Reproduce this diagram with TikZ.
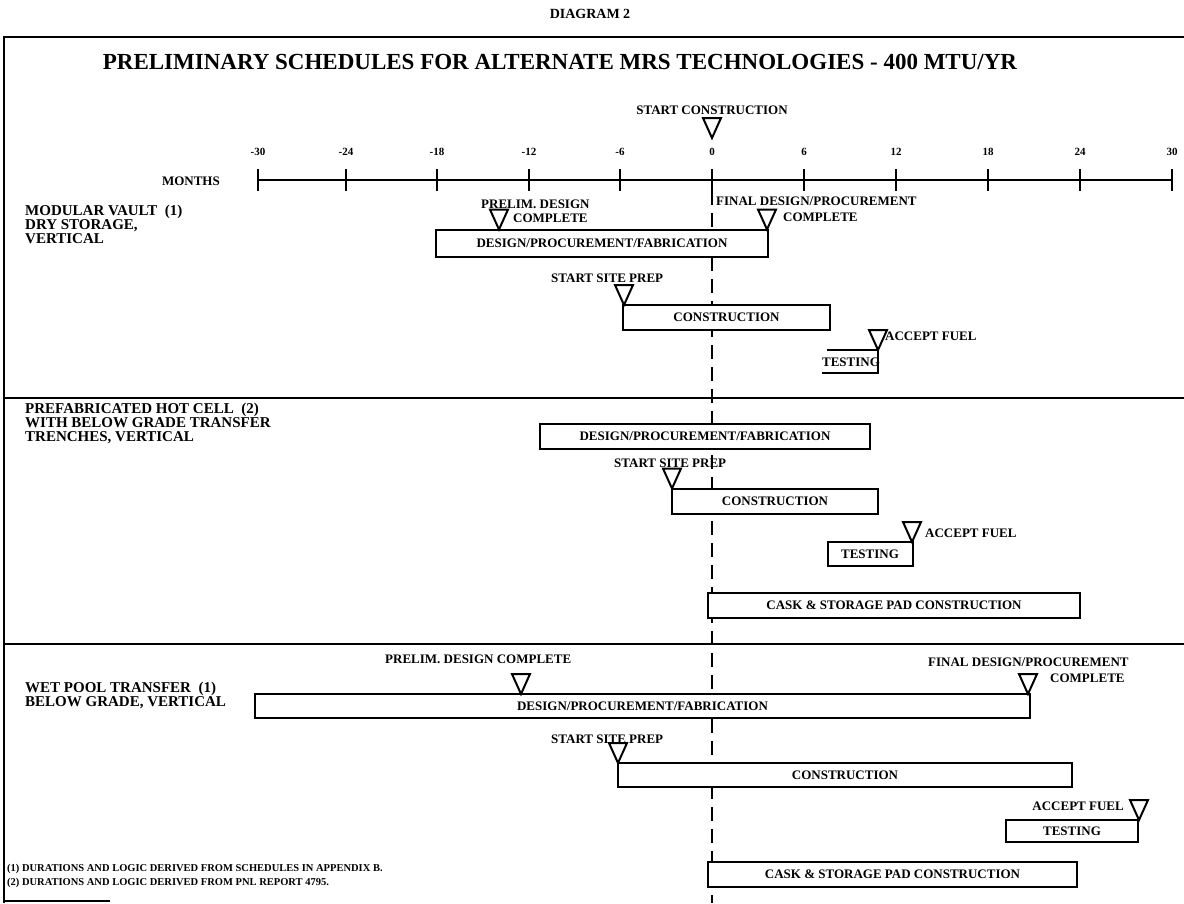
\documentclass[tikz,border=0pt]{standalone}
\usepackage{fontspec}
\setmainfont{Liberation Serif}
\begin{document}
\begin{tikzpicture}[x=1pt,y=-1pt,
  every node/.style={inner sep=0pt, font=\bfseries},
  framel/.style={line width=2.6pt},
  axisl/.style={line width=2.6pt},
  barbox/.style={draw, fill=white, line width=2pt, font=\bfseries\fontsize{13}{13}\selectfont},
  lbl/.style={font=\bfseries\fontsize{13}{13}\selectfont},
  ticklbl/.style={font=\bfseries\fontsize{11}{11}\selectfont},
  sec/.style={font=\bfseries\fontsize{15}{14}\selectfont, align=left, anchor=north west},
  foot/.style={font=\bfseries\fontsize{10.5}{14}\selectfont, align=left, anchor=north west},
  zeroline/.style={line width=1.8pt, dash pattern=on 14pt off 8pt},
  ms/.pic={\draw[line width=2pt, line join=miter, fill=white] (-9,-20) -- (9,-20) -- (0,0) -- cycle;},
]
\useasboundingbox (0,0) rectangle (1184,903);

% headings
\node[font=\bfseries\fontsize{14}{14}\selectfont] (diag) at (590,14) {DIAGRAM 2};
\node[font=\bfseries\fontsize{23}{23}\selectfont] (title) at (560,62) {PRELIMINARY SCHEDULES FOR ALTERNATE MRS TECHNOLOGIES - 400 MTU/YR};

% frame and section dividers
\draw[framel] (1190,37) -- (4,37) -- (4,903);
\draw[framel] (4,398) -- (1190,398);
\draw[framel] (4,644) -- (1190,644);
\draw[line width=1.6pt] (4,901) -- (110,901);

% start construction milestone
\node[lbl] (sc) at (712,110) {START CONSTRUCTION};
\pic (scm) at (712,138) {ms};

% axis
\node[font=\bfseries\fontsize{13}{13}\selectfont, anchor=east] (months) at (220,181) {MONTHS};
\coordinate (ax0) at (258,180);
\coordinate (ax1) at (1172,180);
\draw[axisl] (ax0) -- (ax1);
\foreach \m/\x in {-30/258,-24/346,-18/437,-12/529,-6/620,0/712,6/804,12/896,18/988,24/1080,30/1172}{
  \draw[line width=2.6pt] (\x,169) -- (\x,191);
  \node[ticklbl] at (\x,152) {\m};
}

% zero line
\coordinate (z0) at (712,191);
\coordinate (z1) at (712,903);
\draw[zeroline] (z0) -- (z1);

% ---------- section 1
\node[sec] (s1) at (25,205) {MODULAR VAULT\ \ (1)\\DRY STORAGE,\\VERTICAL};
\node[lbl, anchor=west] (p1a) at (481,204) {PRELIM. DESIGN};
\node[lbl, anchor=west] (p1b) at (513,218) {COMPLETE};
\node[barbox, minimum width=332, minimum height=27] (d1) at (602,243) {DESIGN/PROCUREMENT/FABRICATION};
\pic (p1m) at (499,229.5) {ms};
\node[lbl, anchor=west] (f1a) at (716,201) {FINAL DESIGN/PROCUREMENT};
\node[lbl, anchor=west] (f1b) at (783,217) {COMPLETE};
\pic (f1m) at (767,229.5) {ms};
\node[lbl, anchor=west] (ss1) at (551,278) {START SITE PREP};
\node[barbox, minimum width=207, minimum height=25] (c1) at (726.5,317.5) {CONSTRUCTION};
\pic (ss1m) at (624,305) {ms};
\node[lbl, anchor=west] (a1) at (885,336) {ACCEPT FUEL};
\node[lbl, anchor=center] (t1) at (851,362) {TESTING};
\draw[line width=2pt] (827,350) -- (878,350) -- (878,373) -- (822,373);
\pic (a1m) at (878,350) {ms};

% ---------- section 2
\node[sec] (s2) at (25,403) {PREFABRICATED HOT CELL\ \ (2)\\WITH BELOW GRADE TRANSFER\\TRENCHES, VERTICAL};
\node[barbox, minimum width=330, minimum height=25] (d2) at (705,436) {DESIGN/PROCUREMENT/FABRICATION};
\node[lbl, anchor=west] (ss2) at (614,463) {START SITE PREP};
\node[barbox, minimum width=206, minimum height=25] (c2) at (775,501) {CONSTRUCTION};
\pic (ss2m) at (672,488.5) {ms};
\node[lbl, anchor=west] (a2) at (925,533) {ACCEPT FUEL};
\node[barbox, minimum width=85, minimum height=24] (t2) at (870,554) {TESTING};
\pic (a2m) at (912,542) {ms};
\node[barbox, minimum width=372, minimum height=25] (k2) at (894,605) {CASK \& STORAGE PAD CONSTRUCTION};

% ---------- section 3
\node[lbl, anchor=west] (p3) at (385,659) {PRELIM. DESIGN COMPLETE};
\node[sec] (s3) at (25,682) {WET POOL TRANSFER\ \ (1)\\BELOW GRADE, VERTICAL};
\node[barbox, minimum width=775, minimum height=24] (d3) at (642.5,706) {DESIGN/PROCUREMENT/FABRICATION};
\pic (p3m) at (521,694) {ms};
\node[lbl, anchor=west] (f3a) at (928,662) {FINAL DESIGN/PROCUREMENT};
\node[lbl, anchor=west] (f3b) at (1050,678) {COMPLETE};
\pic (f3m) at (1028,694) {ms};
\node[lbl, anchor=west] (ss3) at (551,739) {START SITE PREP};
\node[barbox, minimum width=454, minimum height=24] (c3) at (845,775) {CONSTRUCTION};
\pic (ss3m) at (618,763) {ms};
\node[lbl, anchor=east] (a3) at (1124,806) {ACCEPT FUEL};
\node[barbox, minimum width=132, minimum height=22] (t3) at (1072,831) {TESTING};
\pic (a3m) at (1139,820) {ms};
\node[barbox, minimum width=369, minimum height=25] (k3) at (892.5,874) {CASK \& STORAGE PAD CONSTRUCTION};

% footnotes
\node[foot] (fn) at (7,864) {(1) DURATIONS AND LOGIC DERIVED FROM SCHEDULES IN APPENDIX B.\\(2) DURATIONS AND LOGIC DERIVED FROM PNL REPORT 4795.};
\end{tikzpicture}
\end{document}
